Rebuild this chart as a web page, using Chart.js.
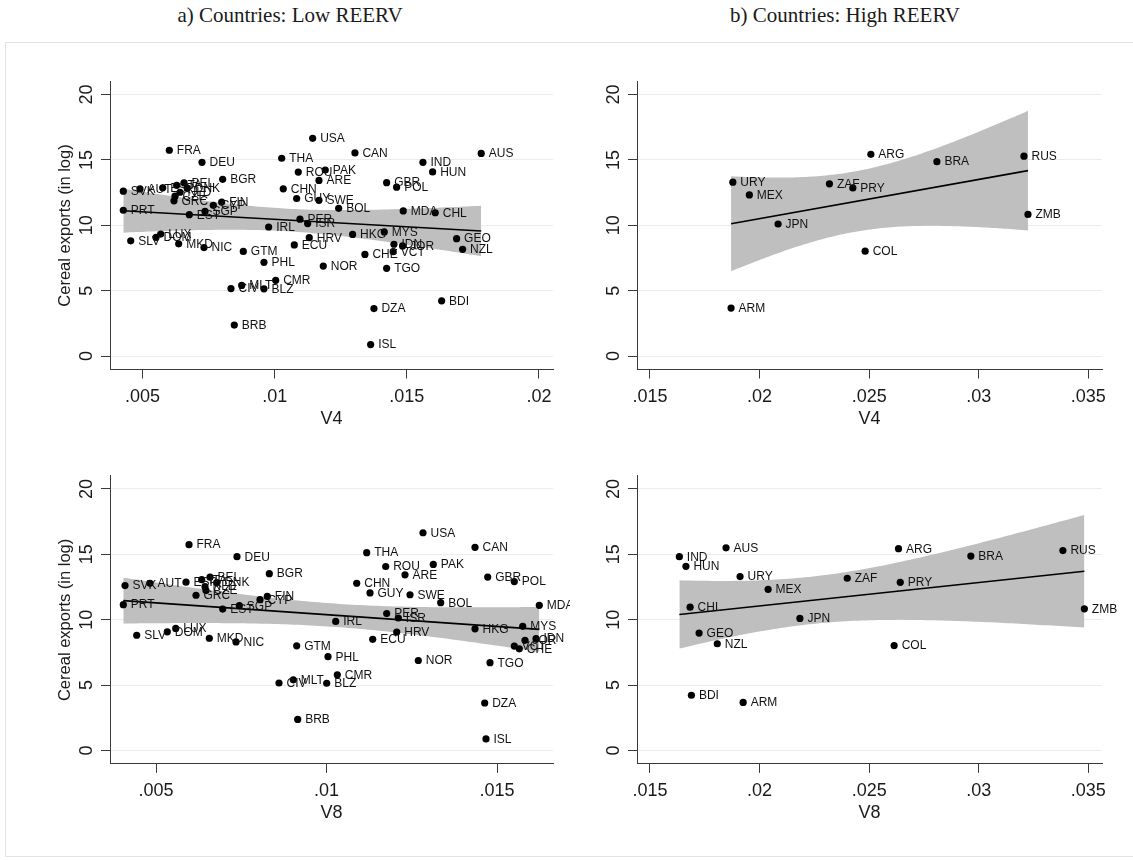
<!DOCTYPE html>
<html>
<head>
<meta charset="utf-8">
<title>Cereal exports and REERV</title>
<script src="https://cdn.jsdelivr.net/npm/chart.js@4.4.1/dist/chart.umd.min.js"></script>
<style>
  html, body { margin: 0; padding: 0; background: #fff; }
  #page { position: relative; width: 1133px; height: 860px; overflow: hidden; background: #fff; }
  .frame { position: absolute; left: 5px; top: 42px; width: 1140px; height: 815px; border: 1px solid #dde5e9; box-sizing: border-box; }
  .head { position: absolute; top: 3px; font-family: "Liberation Serif", "DejaVu Serif", serif; font-size: 21px; color: #1a1a1a; white-space: nowrap; transform: translateX(-50%); }
  canvas { position: absolute; }
</style>
</head>
<body>
<div id="page">
  <div class="frame"></div>
  <div class="head" style="left:290px">a) Countries: Low REERV</div>
  <div class="head" style="left:845px">b) Countries: High REERV</div>
  <canvas id="pTL" width="570" height="440" style="left:0px;top:0px"></canvas>
  <canvas id="pTR" width="563" height="440" style="left:570px;top:0px"></canvas>
  <canvas id="pBL" width="570" height="420" style="left:0px;top:440px"></canvas>
  <canvas id="pBR" width="563" height="420" style="left:570px;top:440px"></canvas>
</div>
<script>
// ---- data: cereal exports (log) and the two volatility measures per country ----
const countries = [
  'FRA','DEU','BGR','SVK','AUT','ESP','ITA','BEL','NLD','CZE','DNK','GRC','CYP','FIN','EST','SGP',
  'PRT','LUX','DOM','SLV','MKD','NIC','GTM','IRL','USA','THA','CAN','AUS','IND','HUN','ROU','PAK',
  'ARE','GBR','POL','CHN','GUY','SWE','BOL','MDA','CHL','PER','ISR','HRV','HKG','MYS','IDN','JOR',
  'CHE','VCT','GEO','NZL','ECU','NOR','TGO','PHL','CMR','BLZ','MLT','CIV','BRB','DZA','BDI','ISL',
  'URY','MEX','JPN','ZAF','PRY','ARG','BRA','RUS','ZMB','COL','ARM'
];
const cerealExports = [
  15.74, 14.82, 13.52, 12.61, 12.78, 12.87, 13.06, 13.25, 12.53, 12.23, 12.84, 11.87, 11.53, 11.78, 10.81, 11.07,
  11.15, 9.33, 9.07, 8.81, 8.58, 8.30, 8.00, 9.87, 16.65, 15.13, 15.54, 15.50, 14.82, 14.08, 14.07, 14.23,
  13.43, 13.26, 12.92, 12.79, 12.05, 11.91, 11.30, 11.10, 10.96, 10.47, 10.13, 9.05, 9.30, 9.49, 8.55, 8.42,
  7.77, 7.98, 8.98, 8.16, 8.50, 6.88, 6.71, 7.17, 5.79, 5.14, 5.40, 5.16, 2.37, 3.63, 4.22, 0.88,
  13.30, 12.32, 10.10, 13.17, 12.86, 15.43, 14.87, 15.29, 10.83, 8.02, 3.67
];
const v4 = [
  0.006014, 0.007250, 0.008033, 0.004274, 0.004905, 0.005764, 0.006293, 0.006570, 0.006418, 0.006229, 0.006694, 0.006191, 0.007678, 0.007995, 0.006770, 0.007364,
  0.004274, 0.005688, 0.005510, 0.004554, 0.006369, 0.007326, 0.008813, 0.009772, 0.011437, 0.010265, 0.013037, 0.017814, 0.015609, 0.015976, 0.010893, 0.011914,
  0.011676, 0.014236, 0.014614, 0.010325, 0.010832, 0.011676, 0.012421, 0.014864, 0.016074, 0.010957, 0.011248, 0.011309, 0.012949, 0.014146, 0.014512, 0.014839,
  0.013415, 0.014485, 0.016883, 0.017110, 0.010742, 0.011839, 0.014236, 0.009595, 0.010038, 0.009595, 0.008752, 0.008347, 0.008472, 0.013756, 0.016316, 0.013631,
  0.018780, 0.019534, 0.020845, 0.023187, 0.024256, 0.025078, 0.028091, 0.032064, 0.032247, 0.024817, 0.018699
];
const v8 = [
  0.005968, 0.007375, 0.008323, 0.004091, 0.004824, 0.005880, 0.006340, 0.006584, 0.006437, 0.006466, 0.006780, 0.006173, 0.008050, 0.008264, 0.006956, 0.007443,
  0.004041, 0.005578, 0.005331, 0.004434, 0.006563, 0.007346, 0.009126, 0.010270, 0.012830, 0.011179, 0.014355, 0.018470, 0.016340, 0.016640, 0.011736, 0.013132,
  0.012302, 0.014727, 0.015507, 0.010886, 0.011276, 0.012449, 0.013349, 0.016240, 0.016830, 0.011765, 0.012106, 0.012059, 0.014355, 0.015754, 0.016144, 0.015821,
  0.015654, 0.015507, 0.017240, 0.018070, 0.011355, 0.012692, 0.014795, 0.010044, 0.010317, 0.010006, 0.009026, 0.008607, 0.009155, 0.014639, 0.016890, 0.014677,
  0.019110, 0.020390, 0.021840, 0.024000, 0.026420, 0.026340, 0.029640, 0.033840, 0.034820, 0.026140, 0.019250
];
// countries in the high-volatility group for each measure
const highV4 = ['URY','MEX','JPN','ZAF','PRY','ARG','BRA','RUS','ZMB','COL','ARM'];
const highV8 = ['URY','MEX','JPN','ZAF','PRY','ARG','BRA','RUS','ZMB','COL','ARM','AUS','IND','HUN','CHL','GEO','NZL','BDI'];

// axis ticks
const yTicks = [0, 5, 10, 15, 20];
const xTicksV4Low = [0.005, 0.01, 0.015, 0.02];
const xTicksV8Low = [0.005, 0.01, 0.015];
const xTicksHigh = [0.015, 0.02, 0.025, 0.03, 0.035];

// ---- statistics for the linear fit and its 95% CI (mean prediction) ----
function lgamma(z) {
  const g = 7, c = [0.99999999999980993, 676.5203681218851, -1259.1392167224028, 771.32342877765313,
    -176.61502916214059, 12.507343278686905, -0.13857109526572012, 9.9843695780195716e-6, 1.5056327351493116e-7];
  if (z < 0.5) return Math.log(Math.PI / Math.sin(Math.PI * z)) - lgamma(1 - z);
  z -= 1;
  let x = c[0];
  for (let i = 1; i < g + 2; i++) x += c[i] / (z + i);
  const t = z + g + 0.5;
  return 0.5 * Math.log(2 * Math.PI) + (z + 0.5) * Math.log(t) - t + Math.log(x);
}
function tCritical(df, p) {
  const k = Math.exp(lgamma((df + 1) / 2) - lgamma(df / 2)) / Math.sqrt(df * Math.PI);
  const pdf = x => k * Math.pow(1 + x * x / df, -(df + 1) / 2);
  const area = x => { const N = 400, h = x / N; let s = pdf(0) + pdf(x);
    for (let i = 1; i < N; i++) s += (i % 2 ? 4 : 2) * pdf(i * h); return s * h / 3; };
  let lo = 0, hi = 30;
  for (let it = 0; it < 60; it++) { const m = (lo + hi) / 2; if (area(m) < p - 0.5) lo = m; else hi = m; }
  return (lo + hi) / 2;
}
function linearFitCI(xs, ys) {
  const n = xs.length;
  const mx = xs.reduce((a, b) => a + b, 0) / n, my = ys.reduce((a, b) => a + b, 0) / n;
  let sxx = 0, sxy = 0;
  for (let i = 0; i < n; i++) { sxx += (xs[i] - mx) ** 2; sxy += (xs[i] - mx) * (ys[i] - my); }
  const b = sxy / sxx, a = my - b * mx;
  let sse = 0;
  for (let i = 0; i < n; i++) sse += (ys[i] - a - b * xs[i]) ** 2;
  const s2 = sse / (n - 2), t = tCritical(n - 2, 0.975);
  const xmin = Math.min(...xs), xmax = Math.max(...xs);
  const fit = [], upper = [], lower = [];
  const steps = 100;
  for (let i = 0; i <= steps; i++) {
    const x = xmin + (xmax - xmin) * i / steps;
    const yh = a + b * x, hw = t * Math.sqrt(s2 * (1 / n + (x - mx) ** 2 / sxx));
    upper.push({ x, y: yh + hw }); lower.push({ x, y: yh - hw });
  }
  fit.push({ x: xmin, y: a + b * xmin }, { x: xmax, y: a + b * xmax });
  return { fit, upper, lower };
}

// ---- drawing ----
const SANS = '"Liberation Sans", Arial, Helvetica, sans-serif';
const AXIS_FONT = 18, YTITLE_FONT = 16.5, LABEL_FONT = 12;
const AXIS_COLOR = '#3a3a3a', GRID_COLOR = '#e6eef1', BAND_COLOR = '#bfbfbf';
const TICK_LEN = 9;

const countryLabels = {
  id: 'countryLabels',
  afterDatasetsDraw(chart) {
    const ctx = chart.ctx;
    chart.data.datasets.forEach((d, i) => {
      if (!d.codes) return;
      const meta = chart.getDatasetMeta(i);
      ctx.save();
      ctx.font = LABEL_FONT + 'px ' + SANS;
      ctx.fillStyle = '#111';
      ctx.textAlign = 'left';
      ctx.textBaseline = 'middle';
      meta.data.forEach((pt, j) => ctx.fillText(d.codes[j], pt.x + 7.5, pt.y + 0.5));
      ctx.restore();
    });
  }
};

function fmtTick(v) {
  return String(+v.toFixed(4)).replace(/^0\./, '.');
}

function drawPanel(p) {
  const canvas = document.getElementById(p.canvas);
  const W = canvas.width, H = canvas.height;
  const [aL, aT, aR, aB] = p.area;
  const xsAll = p.measure === 'v4' ? v4 : v8;
  const high = new Set(p.measure === 'v4' ? highV4 : highV8);
  const idx = countries.map((c, i) => i).filter(i => p.high ? high.has(countries[i]) : !high.has(countries[i]));
  const xs = idx.map(i => xsAll[i]), ys = idx.map(i => cerealExports[i]);
  const pts = idx.map(i => ({ x: xsAll[i], y: cerealExports[i] }));
  const { fit, upper, lower } = linearFitCI(xs, ys);
  const lh = AXIS_FONT * 1.2, ylh = YTITLE_FONT * 1.2;

  new Chart(canvas, {
    type: 'line',
    data: {
      datasets: [
        { data: pts, codes: idx.map(i => countries[i]), showLine: false, pointRadius: 3.6, pointHoverRadius: 3.6,
          pointBackgroundColor: '#000', pointBorderWidth: 0, order: 0 },
        { data: fit, borderColor: '#000', borderWidth: 1.6, pointRadius: 0, fill: false, order: 1 },
        { data: upper, borderWidth: 0, borderColor: 'rgba(0,0,0,0)', pointRadius: 0, fill: '+1',
          backgroundColor: BAND_COLOR, order: 2 },
        { data: lower, borderWidth: 0, borderColor: 'rgba(0,0,0,0)', pointRadius: 0, fill: false, order: 3 }
      ]
    },
    options: {
      responsive: false, animation: false, events: [],
      layout: { padding: { left: 0, top: aT, right: W - aR, bottom: 0 } },
      plugins: { legend: { display: false }, tooltip: { enabled: false } },
      scales: {
        x: {
          type: 'linear', min: p.xRange[0], max: p.xRange[1],
          afterBuildTicks: s => { s.ticks = p.xTicks.map(v => ({ value: v })); },
          afterFit: s => { s.height = H - aB; },
          ticks: { callback: v => fmtTick(v), font: { family: SANS, size: AXIS_FONT }, color: '#1a1a1a',
                   padding: 27.5 - TICK_LEN - lh / 2, maxRotation: 0, autoSkip: false },
          grid: { drawOnChartArea: false, drawTicks: true, tickLength: TICK_LEN, tickColor: AXIS_COLOR, tickWidth: 1 },
          border: { display: true, color: AXIS_COLOR, width: 1 },
          title: { display: true, text: p.xTitle, color: '#1a1a1a', font: { family: SANS, size: AXIS_FONT },
                   padding: { top: 0, bottom: (H - aB) - 49.5 - lh / 2 } }
        },
        y: {
          type: 'linear', min: -1.03, max: 21.0,
          afterBuildTicks: s => { s.ticks = yTicks.map(v => ({ value: v })); },
          afterFit: s => { s.width = aL; },
          ticks: { font: { family: SANS, size: AXIS_FONT }, color: '#1a1a1a', minRotation: 90, maxRotation: 90,
                   crossAlign: 'center', padding: 4 },
          grid: { color: GRID_COLOR, lineWidth: 1, drawTicks: true, tickLength: TICK_LEN, tickColor: AXIS_COLOR, tickWidth: 1 },
          border: { display: true, color: AXIS_COLOR, width: 1 },
          title: { display: p.yTitle, text: 'Cereal exports (in log)', color: '#1a1a1a',
                   font: { family: SANS, size: YTITLE_FONT }, padding: { top: 65 - ylh / 2, bottom: 0 } }
        }
      }
    },
    plugins: [countryLabels]
  });
}

[
  { canvas: 'pTL', measure: 'v4', high: false, xTicks: xTicksV4Low, xRange: [0.00377, 0.02053], xTitle: 'V4', yTitle: true,
    area: [110, 81.5, 553, 369.5] },
  { canvas: 'pTR', measure: 'v4', high: true, xTicks: xTicksHigh, xRange: [0.014407, 0.035625], xTitle: 'V4', yTitle: false,
    area: [67, 81.5, 532, 369.5] },
  { canvas: 'pBL', measure: 'v8', high: false, xTicks: xTicksV8Low, xRange: [0.003651, 0.016642], xTitle: 'V8', yTitle: true,
    area: [110, 35.9, 553, 323.9] },
  { canvas: 'pBR', measure: 'v8', high: true, xTicks: xTicksHigh, xRange: [0.014407, 0.035625], xTitle: 'V8', yTitle: false,
    area: [67, 35.9, 532, 323.9] }
].forEach(drawPanel);
</script>
</body>
</html>
